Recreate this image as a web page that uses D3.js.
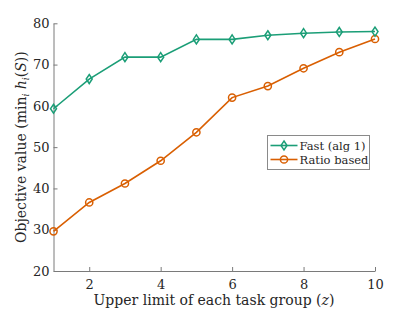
<!DOCTYPE html>
<html>
<head>
<meta charset="utf-8">
<script src="https://cdn.jsdelivr.net/npm/d3@7"></script>
<style>
  body { margin: 0; background: #fff; }
  svg text { font-family: "DejaVu Serif", serif; fill: #262626; }
</style>
</head>
<body>
<svg id="chart" width="415" height="312"></svg>
<script>
// ---------------------------------------------
// Data
// ---------------------------------------------
let zValues = [1, 2, 3, 4, 5, 6, 7, 8, 9, 10];
let fastValues = [59.3, 66.5, 71.8, 71.8, 76.1, 76.1, 77.1, 77.6, 77.9, 78.0];
let ratioValues = [29.6, 36.6, 41.2, 46.7, 53.6, 62.0, 64.8, 69.1, 73.0, 76.2];
let xTicks = [2, 4, 6, 8, 10];
let yTicks = [20, 30, 40, 50, 60, 70, 80];
let seriesNames = ['Fast (alg 1)', 'Ratio based'];

// ---------------------------------------------
// Layout
// ---------------------------------------------
let svg = d3.select('#chart');
let plotLeft = 53.5, plotRight = 375, plotTop = 23.3, plotBottom = 271;
let serif = '"DejaVu Serif", serif';

let scaleX = d3.scaleLinear().domain([1, 10]).range([plotLeft, plotRight]);
let scaleY = d3.scaleLinear().domain([20, 80]).range([plotBottom, plotTop]);

let axisColor = '#7a7a7a';
let green = '#1b9e77';
let orange = '#d95f02';

// Axes (ticks point inward)
let xAxis = svg.append('g')
    .attr('transform', 'translate(0,' + plotBottom + ')')
    .call(d3.axisBottom(scaleX).tickValues(xTicks).tickSizeInner(-4).tickSizeOuter(0).tickPadding(9));
let yAxis = svg.append('g')
    .attr('transform', 'translate(' + plotLeft + ',0)')
    .call(d3.axisLeft(scaleY).tickValues(yTicks).tickSizeInner(-4).tickSizeOuter(0).tickPadding(4));

[xAxis, yAxis].forEach((ax) => {
  ax.attr('font-family', serif);
  ax.select('.domain').attr('stroke', axisColor);
  ax.selectAll('.tick line').attr('stroke', axisColor);
  ax.selectAll('.tick text')
      .style('font-family', serif)
      .style('font-size', '13px')
      .attr('fill', '#262626');
});

// Axis labels
let xLabel = svg.append('text')
    .attr('x', 214)
    .attr('y', 305)
    .attr('text-anchor', 'middle')
    .style('font-family', serif)
    .style('font-size', '14px');
xLabel.append('tspan').text('Upper limit of each task group (');
xLabel.append('tspan').style('font-style', 'italic').text('z');
xLabel.append('tspan').text(')');

let yLabel = svg.append('text')
    .attr('transform', 'translate(26,' + ((plotTop + plotBottom) / 2) + ') rotate(-90)')
    .attr('text-anchor', 'middle')
    .style('font-family', serif)
    .style('font-size', '14px');
yLabel.append('tspan').text('Objective value (min');
yLabel.append('tspan').style('font-style', 'italic').style('font-size', '9px').attr('dy', 3).text('i');
yLabel.append('tspan').attr('dy', -3).text(' ');
yLabel.append('tspan').style('font-style', 'italic').text('h');
yLabel.append('tspan').style('font-style', 'italic').style('font-size', '9px').attr('dy', 3).text('i');
yLabel.append('tspan').attr('dy', -3).text('(');
yLabel.append('tspan').style('font-style', 'italic').text('S');
yLabel.append('tspan').text('))');

// ---------------------------------------------
// Series
// ---------------------------------------------
let line = d3.line()
    .x((d, i) => scaleX(zValues[i]))
    .y((d) => scaleY(d));

let diamond = function(g, cx, cy, color) {
  g.append('path')
      .attr('d', 'M' + cx + ',' + (cy - 4.5) + 'L' + (cx + 3) + ',' + cy +
        'L' + cx + ',' + (cy + 4.5) + 'L' + (cx - 3) + ',' + cy + 'Z')
      .attr('fill', 'none')
      .attr('stroke', color)
      .attr('stroke-width', 1.5);
};
let circle = function(g, cx, cy, color) {
  g.append('circle')
      .attr('cx', cx).attr('cy', cy).attr('r', 3.6)
      .attr('fill', 'none')
      .attr('stroke', color)
      .attr('stroke-width', 1.5);
};

svg.append('path').datum(ratioValues)
    .attr('d', line).attr('fill', 'none')
    .attr('stroke', orange).attr('stroke-width', 1.6);
let ratioMarks = svg.append('g');
ratioValues.forEach((v, i) => circle(ratioMarks, scaleX(zValues[i]), scaleY(v), orange));

svg.append('path').datum(fastValues)
    .attr('d', line).attr('fill', 'none')
    .attr('stroke', green).attr('stroke-width', 1.6);
let fastMarks = svg.append('g');
fastValues.forEach((v, i) => diamond(fastMarks, scaleX(zValues[i]), scaleY(v), green));

// ---------------------------------------------
// Legend
// ---------------------------------------------
let legend = svg.append('g').attr('transform', 'translate(267.5,135.5)');
legend.append('rect')
    .attr('width', 102).attr('height', 34)
    .attr('fill', '#fff').attr('stroke', '#8a8a8a').attr('stroke-width', 1);

[[green, diamond], [orange, circle]].forEach((s, i) => {
  let y = 10 + i * 14;
  legend.append('line')
      .attr('x1', 3).attr('x2', 30).attr('y1', y).attr('y2', y)
      .attr('stroke', s[0]).attr('stroke-width', 1.6);
  s[1](legend, 16.5, y, s[0]);
  legend.append('text')
      .attr('x', 32).attr('y', y + 4)
      .style('font-family', serif)
      .style('font-size', '11.5px')
      .text(seriesNames[i]);
});
</script>
</body>
</html>
